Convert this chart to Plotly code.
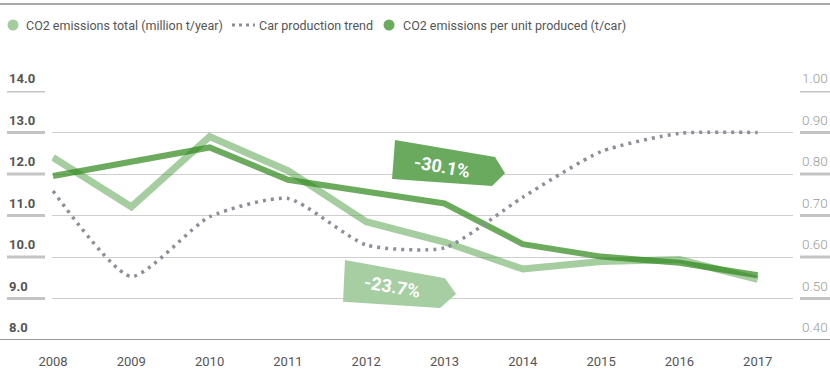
import plotly.graph_objects as go

# ---- data -------------------------------------------------------------
years = [2008, 2009, 2010, 2011, 2012, 2013, 2014, 2015, 2016, 2017]
co2_total = [12.40, 11.21, 12.90, 12.08, 10.85, 10.36, 9.71, 9.89, 9.94, 9.46]
car_production = [0.759, 0.553, 0.697, 0.741, 0.629, 0.622, 0.744, 0.854, 0.898, 0.900]
co2_per_unit = [0.795, 0.830, 0.864, 0.786, 0.757, 0.729, 0.631, 0.601, 0.586, 0.556]

left_ticks = [8, 9, 10, 11, 12, 13, 14]
left_labels = ["8.0", "9.0", "10.0", "11.0", "12.0", "13.0", "14.0"]
right_ticks = [0.4, 0.5, 0.6, 0.7, 0.8, 0.9, 1.0]
right_labels = ["0.40", "0.50", "0.60", "0.70", "0.80", "0.90", "1.00"]

legend_names = [
    "CO2 emissions total (million t/year)",
    "Car production trend",
    "CO2 emissions per unit produced (t/car)",
]
change_per_unit = "-30.1%"
change_total = "-23.7%"

# ---- styling ----------------------------------------------------------
W, H = 830, 372
ML, MR, MT, MB = 52, 37, 91, 32
PW, PH = W - ML - MR, H - MT - MB

LIGHT = "rgba(75,155,65,0.5)"
DARK = "rgba(45,135,25,0.7)"
DOTS = "#8e8e9a"
ARROW_DARK = "#6aaa5f"
ARROW_LIGHT = "#a6cea2"
TEXT = "#555555"
FONT = "Roboto"


def px_x(p):
    return (p - ML) / PW


def px_y(p):
    return (H - MB - p) / PH


fig = go.Figure()

fig.add_trace(go.Scatter(x=years, y=co2_total, mode="lines",
                         line=dict(color=LIGHT, width=7), yaxis="y",
                         showlegend=False, hoverinfo="skip"))
fig.add_trace(go.Scatter(x=years, y=co2_per_unit, mode="lines",
                         line=dict(color=DARK, width=6), yaxis="y2",
                         showlegend=False, hoverinfo="skip"))
fig.add_trace(go.Scatter(x=years, y=car_production, mode="lines",
                         line=dict(color=DOTS, width=3.5, dash="3px,5px",
                                   shape="spline", smoothing=0.6),
                         yaxis="y2", showlegend=False, hoverinfo="skip"))

shapes = []
annotations = []

# horizontal rules at top and bottom
shapes.append(dict(type="line", xref="paper", yref="paper",
                   x0=px_x(0), x1=px_x(W), y0=px_y(4), y1=px_y(4),
                   line=dict(color="#a8a8a8", width=2)))
shapes.append(dict(type="line", xref="paper", yref="y",
                   x0=px_x(0), x1=px_x(W), y0=left_ticks[0], y1=left_ticks[0],
                   line=dict(color="#9a9a9a", width=2)))

# axis labels sitting on short underlines
for v, lab in zip(left_ticks, left_labels):
    if v != left_ticks[0]:
        shapes.append(dict(type="line", xref="paper", yref="y",
                           x0=px_x(7), x1=px_x(45), y0=v, y1=v,
                           line=dict(color="#c4c4c4", width=3)))
    annotations.append(dict(xref="paper", yref="y", x=px_x(7), y=v,
                            xanchor="left", yanchor="bottom", yshift=3,
                            text=lab, showarrow=False,
                            font=dict(family=FONT, size=13, color=TEXT, weight=700)))

for v, lab in zip(right_ticks, right_labels):
    if v != right_ticks[0]:
        shapes.append(dict(type="line", xref="paper", yref="y2",
                           x0=px_x(800), x1=px_x(W), y0=v, y1=v,
                           line=dict(color="#c4c4c4", width=3)))
    annotations.append(dict(xref="paper", yref="y2", x=px_x(800), y=v,
                            xanchor="left", yanchor="bottom", yshift=3,
                            text=lab, showarrow=False,
                            font=dict(family=FONT, size=13.5, color="#9a9a9a", weight=300)))

# legend
LY = px_y(25)
shapes.append(dict(type="circle", xref="paper", yref="paper",
                   xsizemode="pixel", ysizemode="pixel",
                   xanchor=px_x(13), yanchor=LY, x0=-5.5, x1=5.5, y0=-5.5, y1=5.5,
                   fillcolor="#a4cd9f", line=dict(width=0)))
shapes.append(dict(type="line", xref="paper", yref="paper",
                   x0=px_x(232), x1=px_x(255), y0=LY, y1=LY,
                   line=dict(color=DOTS, width=3, dash="3px,4px")))
shapes.append(dict(type="circle", xref="paper", yref="paper",
                   xsizemode="pixel", ysizemode="pixel",
                   xanchor=px_x(389), yanchor=LY, x0=-5.5, x1=5.5, y0=-5.5, y1=5.5,
                   fillcolor="#6aab5e", line=dict(width=0)))
for name, xs in zip(legend_names, [24, 257, 401]):
    annotations.append(dict(xref="paper", yref="paper", x=px_x(xs), y=LY,
                            xanchor="left", yanchor="middle", text=name,
                            showarrow=False,
                            font=dict(family=FONT, size=12.5, color=TEXT)))

# change badges (pointed tags)
badge_dark = [(2012.368, 12.82), (2013.645, 12.41), (2013.773, 12.02),
              (2013.607, 11.71), (2012.330, 11.88)]
badge_light = [(2011.729, 9.93), (2013.006, 9.49), (2013.147, 9.11),
               (2012.943, 8.77), (2011.704, 8.92)]


def poly(pts):
    return "M " + " L ".join(f"{x},{y}" for x, y in pts) + " Z"


shapes.append(dict(type="path", xref="x", yref="y", path=poly(badge_dark),
                   fillcolor=ARROW_DARK, line=dict(width=0), layer="above"))
shapes.append(dict(type="path", xref="x", yref="y", path=poly(badge_light),
                   fillcolor=ARROW_LIGHT, line=dict(width=0), layer="above"))
annotations.append(dict(x=2012.97, y=12.19, xref="x", yref="y", text=change_per_unit,
                        showarrow=False, textangle=10,
                        font=dict(family=FONT, size=18, color="white", weight=700)))
annotations.append(dict(x=2012.33, y=9.28, xref="x", yref="y", text=change_total,
                        showarrow=False, textangle=10,
                        font=dict(family=FONT, size=18, color="white", weight=700)))

fig.update_layout(
    width=W, height=H,
    margin=dict(l=ML, r=MR, t=MT, b=MB, pad=0, autoexpand=False),
    paper_bgcolor="white", plot_bgcolor="white",
    showlegend=False,
    shapes=shapes, annotations=annotations,
    xaxis=dict(range=[2007.987, 2017.451], tickvals=years,
               ticktext=[str(y) for y in years], automargin=False,
               showgrid=False, zeroline=False, showline=False,
               ticks="outside", ticklen=9, tickcolor="rgba(0,0,0,0)",
               tickfont=dict(family=FONT, size=13, color=TEXT)),
    yaxis=dict(range=[8, 14], tickvals=left_ticks, showticklabels=False,
               showgrid=True, gridcolor="#cfcfcf", gridwidth=1, automargin=False,
               zeroline=False, showline=False),
    yaxis2=dict(range=[0.4, 1.0], overlaying="y", side="right", automargin=False,
                showticklabels=False, showgrid=False, zeroline=False,
                showline=False),
)

fig.write_html("out.html")
